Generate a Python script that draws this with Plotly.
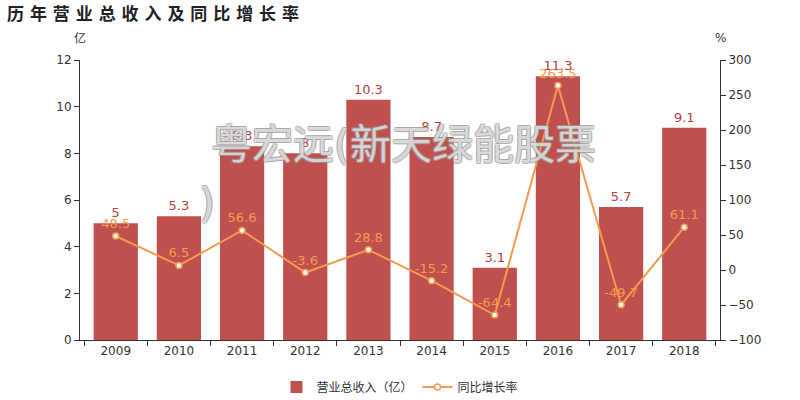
import plotly.graph_objects as go

years = ["2009", "2010", "2011", "2012", "2013", "2014", "2015", "2016", "2017", "2018"]
revenue = [5, 5.3, 8.3, 8, 10.3, 8.7, 3.1, 11.3, 5.7, 9.1]
growth = [48.5, 6.5, 56.6, -3.6, 28.8, -15.2, -64.4, 263.5, -49.7, 61.1]
left_ticks = [0, 2, 4, 6, 8, 10, 12]
right_ticks = [-100, -50, 0, 50, 100, 150, 200, 250, 300]

FONT = "DejaVu Sans, Noto Sans CJK SC, sans-serif"
BAR = "#c0504d"
LINE = "#f59a4f"
SHADOW = "1px 1px 0 #999, -1px -1px 0 #999, 1px -1px 0 #999, -1px 1px 0 #999"

fig = go.Figure()
fig.add_trace(go.Bar(
    x=years, y=revenue, name="营业总收入（亿）",
    marker=dict(color=BAR, line=dict(width=0)),
    text=[str(v) for v in revenue], textposition="outside",
    textfont=dict(color="#b8403d", size=13, family=FONT),
    cliponaxis=False,
))
fig.add_trace(go.Scatter(
    x=years, y=growth, name="同比增长率", yaxis="y2",
    mode="lines+markers+text",
    line=dict(color=LINE, width=2),
    marker=dict(size=6, color="white", line=dict(color=LINE, width=1.5)),
    text=[str(v) for v in growth], textposition="top center",
    textfont=dict(color=LINE, size=13, family=FONT),
    cliponaxis=False,
))

fig.update_layout(
    width=800, height=400,
    margin=dict(l=80, r=80, t=60, b=60, autoexpand=False),
    paper_bgcolor="white", plot_bgcolor="white",
    font=dict(family=FONT, size=12, color="#333"),
    bargap=0.3,
    showlegend=True,
    legend=dict(orientation="h", x=0.5, xanchor="center", y=-47/280, yanchor="middle",
                font=dict(size=12, color="#333")),
    xaxis=dict(type="category", showline=True, linecolor="#333", linewidth=1,
               ticks="outside", tickson="boundaries", ticklen=5, tickcolor="#333",
               showgrid=False, tickfont=dict(size=12, color="#333")),
    yaxis=dict(range=[0, 12], tickvals=left_ticks, showline=True, linecolor="#333",
               ticks="outside", ticklen=5, tickcolor="#333", showgrid=False,
               zeroline=False, tickfont=dict(size=12, color="#333")),
    yaxis2=dict(range=[-100, 300], tickvals=right_ticks, overlaying="y", side="right",
                showline=True, linecolor="#333", ticks="outside", ticklen=5,
                tickcolor="#333", showgrid=False, zeroline=False,
                tickfont=dict(size=12, color="#333")),
    annotations=[
        dict(text="<b>历 年 营 业 总 收 入 及 同 比 增 长 率</b>", xref="paper", yref="paper",
             x=-75/640, y=1+46/280, xanchor="left", yanchor="middle", showarrow=False,
             font=dict(size=17, color="#222", family=FONT)),
        dict(text="亿", xref="paper", yref="paper", x=0, y=1+22/280,
             xanchor="center", yanchor="middle", showarrow=False,
             font=dict(size=12, color="#333", family=FONT)),
        dict(text="%", xref="paper", yref="paper", x=1, y=1+22/280,
             xanchor="center", yanchor="middle", showarrow=False,
             font=dict(size=12, color="#333", family=FONT)),
        dict(text="粤宏远(新天绿能股票", xref="paper", yref="paper",
             x=(403-80)/640, y=(340-145)/280, xanchor="center", yanchor="middle",
             showarrow=False,
             font=dict(size=41, color="rgba(255,255,255,0.6)", family=FONT, shadow=SHADOW)),
        dict(text=")", xref="paper", yref="paper",
             x=(207-80)/640, y=(340-203)/280, xanchor="center", yanchor="middle",
             showarrow=False,
             font=dict(size=41, color="rgba(255,255,255,0.6)", family=FONT, shadow=SHADOW)),
    ],
)

fig.write_html("out.html")
